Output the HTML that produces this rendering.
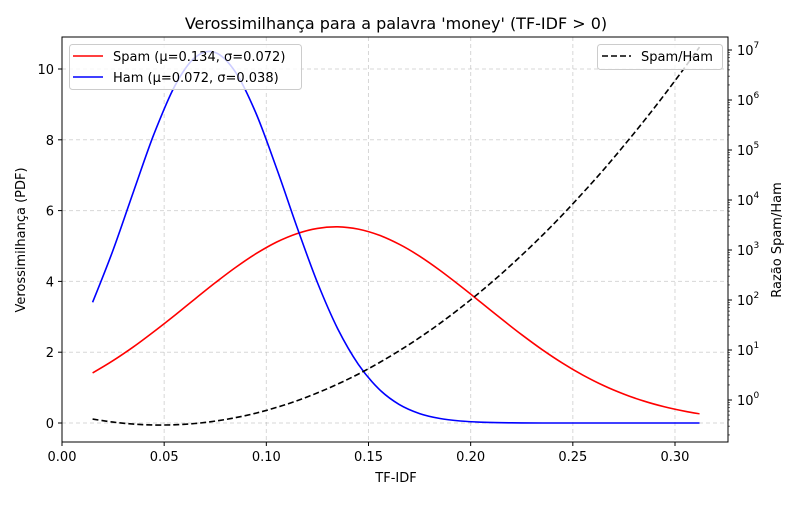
<!DOCTYPE html>
<html><head><meta charset="utf-8"><style>
body{margin:0;background:#fff;font-family:"Liberation Sans","DejaVu Sans",sans-serif}
svg text{font-family:"DejaVu Sans","Liberation Sans",sans-serif}
</style></head><body>
<svg id="c" width="800" height="500" viewBox="0 0 800 500" xmlns="http://www.w3.org/2000/svg">
<rect width="800" height="500" fill="#fff"/>
<text x="396" y="29" font-size="16" text-anchor="middle">Verossimilhança para a palavra 'money' (TF-IDF &gt; 0)</text>
<g id="grid"></g><g id="marks"></g><g id="axes"></g>
<text x="396" y="482" font-size="13" text-anchor="middle">TF-IDF</text>
<text transform="translate(25,240) rotate(-90)" font-size="13" text-anchor="middle">Verossimilhança (PDF)</text>
<text transform="translate(781,240) rotate(-90)" font-size="13" text-anchor="middle">Razão Spam/Ham</text>
<g>
<rect x="69.5" y="44.5" width="232" height="45" rx="3" fill="#fff" fill-opacity="0.8" stroke="#ccc"/>
<line x1="73" y1="56" x2="103" y2="56" stroke="red" stroke-width="1.6"/>
<text x="113" y="61" font-size="13">Spam (μ=0.134, σ=0.072)</text>
<line x1="73" y1="77" x2="103" y2="77" stroke="blue" stroke-width="1.6"/>
<text x="113" y="82" font-size="13">Ham (μ=0.072, σ=0.038)</text>
</g>
<g>
<rect x="597.5" y="44.5" width="125" height="25" rx="3" fill="#fff" fill-opacity="0.8" stroke="#ccc"/>
<line x1="602" y1="56" x2="631" y2="56" stroke="#000" stroke-width="1.6" stroke-dasharray="6,3"/>
<text x="641" y="61" font-size="13">Spam/Ham</text>
</g>
</svg>
<script>
const xs=[0.015,0.025,0.035,0.045,0.055,0.065,0.075,0.085,0.095,0.105,0.115,0.125,0.135,0.145,0.155,0.165,0.175,0.185,0.195,0.205,0.215,0.225,0.235,0.245,0.255,0.265,0.275,0.285,0.295,0.305,0.312];
const spamVals=[1.414,1.762,2.153,2.581,3.035,3.501,3.961,4.396,4.785,5.109,5.351,5.498,5.541,5.477,5.311,5.051,4.712,4.311,3.870,3.408,2.943,2.493,2.072,1.688,1.350,1.059,0.815,0.615,0.455,0.330,0.261];
const hamVals=[3.409,4.886,6.536,8.157,9.500,10.322,10.466,9.903,8.742,7.200,5.535,3.970,2.656,1.659,0.966,0.525,0.2665,0.1262,0.05574,0.02298,0.00884,0.003171,0.001062,3.315e-4,9.66e-5,2.63e-5,6.67e-6,1.58e-6,3.49e-7,7.19e-8,2.28e-8];
const xTicks=[0,0.05,0.10,0.15,0.20,0.25,0.30];
const xTickLabels=["0.00","0.05","0.10","0.15","0.20","0.25","0.30"];
const yTicks=[0,2,4,6,8,10];
const y2Exps=[0,1,2,3,4,5,6,7];
const L=62,R=728,T=37,B=442;
const X=v=>62+v*2043.3;
const Y=v=>423-v*35.4;
const Y2=v=>400-50*Math.log10(v);
const NS="http://www.w3.org/2000/svg";
function mk(parent,tag,attrs){const e=document.createElementNS(NS,tag);for(const k in attrs)e.setAttribute(k,attrs[k]);document.getElementById(parent).appendChild(e);return e;}
xTicks.forEach((t,i)=>{
  const g=mk('grid','line',{x1:X(t),x2:X(t),y1:T,y2:B,stroke:'#b0b0b0','stroke-opacity':0.5,'stroke-dasharray':'4,3'});
  
  
  mk('axes','line',{x1:X(t),x2:X(t),y1:B,y2:B+4,stroke:'#000'});
  const tx=mk('axes','text',{x:X(t),y:B+19,'font-size':13,'text-anchor':'middle'});
  tx.textContent=xTickLabels[i];
  
  
});
yTicks.forEach(t=>{
  const g=mk('grid','line',{x1:L,x2:R,y1:Y(t),y2:Y(t),stroke:'#b0b0b0','stroke-opacity':0.5,'stroke-dasharray':'4,3'});
  
  
  mk('axes','line',{x1:L-4,x2:L,y1:Y(t),y2:Y(t),stroke:'#000'});
  const tx=mk('axes','text',{x:L-8,y:Y(t)+5,'font-size':13,'text-anchor':'end'});
  tx.textContent=String(t);
  
  
});
y2Exps.forEach(e=>{
  const y=Y2(Math.pow(10,e));
  mk('axes','line',{x1:R,x2:R+4,y1:y,y2:y,stroke:'#000'});
  for(let m=2;m<10;m++){const ym=Y2(m*Math.pow(10,e-1));if(ym<B&&ym>T)mk('axes','line',{x1:R,x2:R+2,y1:ym,y2:ym,stroke:'#000','stroke-width':0.6});}
  const tx=mk('axes','text',{x:R+9,y:y+5,'font-size':13});
  
  
  tx.innerHTML='10<tspan dy="-7" font-size="9">'+e+'</tspan>';
});
for(let m=2;m<10;m++){const ym=Y2(m*Math.pow(10,7));if(ym>T)mk('axes','line',{x1:R,x2:R+2,y1:ym,y2:ym,stroke:'#000','stroke-width':0.6});}
const fr=mk('axes','rect',{x:L,y:T,width:R-L,height:B-T,fill:'none',stroke:'#000','stroke-width':1});


function path(vals,f){
  const p=xs.map((x,i)=>[X(x),f(vals[i])]);
  let d='M'+p[0][0].toFixed(1)+','+p[0][1].toFixed(1);
  for(let i=0;i<p.length-1;i++){
    const p0=p[Math.max(0,i-1)],p1=p[i],p2=p[i+1],p3=p[Math.min(p.length-1,i+2)];
    const c1x=p1[0]+(p2[0]-p0[0])/6,c1y=p1[1]+(p2[1]-p0[1])/6;
    const c2x=p2[0]-(p3[0]-p1[0])/6,c2y=p2[1]-(p3[1]-p1[1])/6;
    d+=' C'+c1x.toFixed(1)+','+c1y.toFixed(1)+' '+c2x.toFixed(1)+','+c2y.toFixed(1)+' '+p2[0].toFixed(1)+','+p2[1].toFixed(1);
  }
  return d;
}
const sp=mk('marks','path',{d:path(spamVals,Y),fill:'none',stroke:'red','stroke-width':1.6});


const hp=mk('marks','path',{d:path(hamVals,Y),fill:'none',stroke:'blue','stroke-width':1.6});


const ratio=spamVals.map((s,i)=>s/hamVals[i]);
const rp=mk('marks','path',{d:path(ratio,Y2),fill:'none',stroke:'#000','stroke-width':1.6,'stroke-dasharray':'6,3'});


</script>
</body></html>
